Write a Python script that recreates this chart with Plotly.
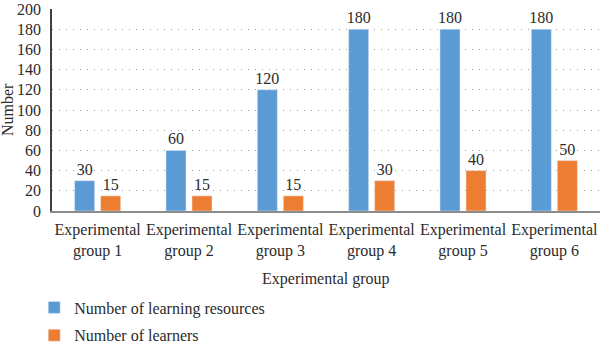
import plotly.graph_objects as go

categories = ["Experimental<br>group 1", "Experimental<br>group 2", "Experimental<br>group 3",
              "Experimental<br>group 4", "Experimental<br>group 5", "Experimental<br>group 6"]
resources = [30, 60, 120, 180, 180, 180]
learners = [15, 15, 15, 30, 40, 50]
series_names = ["Number of learning resources", "Number of learners"]
y_ticks = [0, 20, 40, 60, 80, 100, 120, 140, 160, 180, 200]

FONT = "Liberation Serif"
TXT = "#2b2b2b"
FS = 16

fig = go.Figure()
fig.add_trace(go.Bar(x=categories, y=resources, name=series_names[0], legendgroup="a",
                     marker_color="#5B9BD5", text=resources, textposition="outside",
                     constraintext="none",
                     textfont=dict(family=FONT, size=FS, color=TXT), cliponaxis=False))
fig.add_trace(go.Bar(x=categories, y=learners, name=series_names[1], legendgroup="b",
                     marker_color="#ED7D31", text=learners, textposition="outside",
                     constraintext="none",
                     textfont=dict(family=FONT, size=FS, color=TXT), cliponaxis=False))

fig.update_layout(
    width=600, height=345,
    margin=dict(l=52, r=0, t=9, b=134, autoexpand=False),
    paper_bgcolor="white", plot_bgcolor="white",
    barmode="group", bargap=0.43, bargroupgap=0.23,
    font=dict(family=FONT, size=FS, color=TXT),
    showlegend=True,
    legend=dict(x=0.057, xref="container", xanchor="left",
                y=0.158, yref="container", yanchor="top",
                orientation="v", font=dict(family=FONT, size=FS, color=TXT),
                bgcolor="rgba(0,0,0,0)", traceorder="grouped", tracegroupgap=4),
)
fig.update_xaxes(showline=True, linecolor="#8c8c8c", linewidth=1.5,
                 showgrid=False, ticks="", ticklabelstandoff=3,
                 tickfont=dict(family=FONT, size=FS, color=TXT))
fig.update_yaxes(range=[0, 200], tickvals=y_ticks, showline=True, linecolor="#404040",
                 linewidth=1.5, showgrid=True, gridcolor="#9a9a9a", griddash="1px,6px",
                 gridwidth=1, zeroline=False, ticks="", ticklabelstandoff=6,
                 tickfont=dict(family=FONT, size=FS, color=TXT))
fig.add_annotation(text="Number", xref="paper", yref="paper",
                   x=-0.082, y=0.5, xanchor="center", yanchor="middle", textangle=-90,
                   showarrow=False, font=dict(family=FONT, size=FS, color=TXT))
fig.add_annotation(text="Experimental group", xref="paper", yref="paper",
                   x=0.5, y=-0.335, xanchor="center", yanchor="middle", showarrow=False,
                   font=dict(family=FONT, size=FS, color=TXT))

fig.write_html("out.html")
